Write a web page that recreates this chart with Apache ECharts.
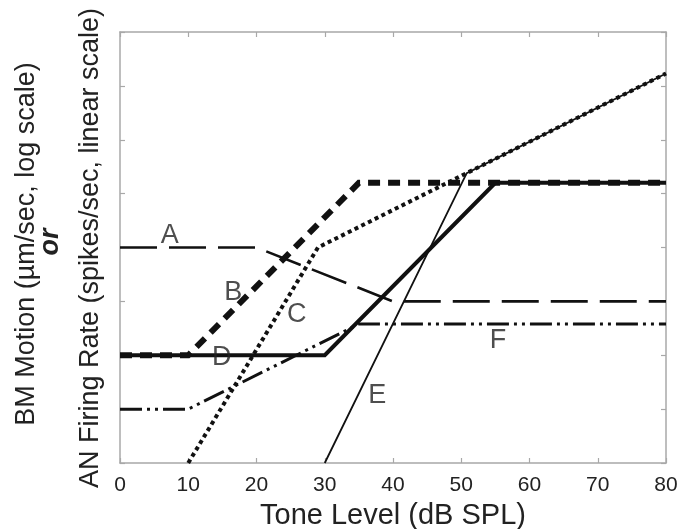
<!DOCTYPE html>
<html>
<head>
<meta charset="utf-8">
<script src="https://cdn.jsdelivr.net/npm/echarts@6/dist/echarts.min.js"></script>
<style>
html,body{margin:0;padding:0;background:#fff;}
#chart{width:685px;height:529px;}
</style>
</head>
<body>
<div id="chart"></div>
<script>
// ---- data ----
const xTickLabels = ['0','10','20','30','40','50','60','70','80'];
const curveA = [[0,4],[20,4],[40,3],[80,3]];
const curveB = [[0,2],[10,2],[35,5.2],[80,5.2]];
const curveC = [[10,0],[29,4],[80,7.23]];
const curveD = [[0,2],[30,2],[55,5.2],[80,5.2]];
const curveE = [[30,0],[50.8,5.38],[80,7.23]];
const curveF = [[0,1],[10,1],[35,2.58],[80,2.58]];
const labelNames = ['A','B','C','D','E','F'];
const labelX = [7.3, 16.6, 25.9, 14.9, 37.7, 55.4];
const labelY = [4.23, 3.17, 2.75, 1.95, 1.26, 2.28];
const xTitle = 'Tone Level (dB SPL)';
const yTitle1 = 'BM Motion (\u00b5m/sec, log scale)';
const yTitle2 = 'or';
const yTitle3 = 'AN Firing Rate (spikes/sec, linear scale)';

const FONT = '"Liberation Sans", Arial, Helvetica, sans-serif';
const frame = {onZero:false, lineStyle:{color:'#a8a8a8', width:1.5}};
const tick = {show:true, inside:true, length:5, lineStyle:{color:'#a8a8a8', width:1.2}};
const ink = '#111';

const chart = echarts.init(document.getElementById('chart'), null, {renderer:'canvas'});

function lineSeries(name, data, width, type){
  return {
    name, type:'line', data, showSymbol:false, symbol:'none',
    animation:false, xAxisIndex:0, yAxisIndex:0,
    lineStyle:{color:ink, width, type, cap:'butt', join:'miter'},
    z:3
  };
}

const option = {
  backgroundColor:'#fff',
  animation:false,
  grid:{left:120, right:19, top:32, bottom:66, containLabel:false, outerBoundsMode:'none'},
  xAxis:[
    {type:'value', min:0, max:80, interval:10, position:'bottom',
     axisLine:{show:true, ...frame}, splitLine:{show:false}, axisTick:tick,
     axisLabel:{show:true, margin:12, fontSize:21, color:'#222', fontFamily:FONT,
       formatter:(v)=>xTickLabels[Math.round(v/10)]},
     name:xTitle, nameLocation:'middle', nameGap:38,
     nameTextStyle:{fontSize:29, color:'#222', fontFamily:FONT}},
    {type:'value', min:0, max:80, interval:10, position:'top',
     axisLine:{show:true, ...frame}, splitLine:{show:false}, axisTick:tick,
     axisLabel:{show:false}}
  ],
  yAxis:[
    {type:'value', min:0, max:8, interval:1, position:'left',
     axisLine:{show:true, ...frame}, splitLine:{show:false}, axisTick:tick,
     axisLabel:{show:false}},
    {type:'value', min:0, max:8, interval:1, position:'right',
     axisLine:{show:true, ...frame}, splitLine:{show:false}, axisTick:tick,
     axisLabel:{show:false}}
  ],
  series:[
    lineSeries('A', curveA, 2.6, [37,12]),
    lineSeries('B', curveB, 6, [12,8]),
    lineSeries('C', curveC, 4, [4,3.5]),
    lineSeries('D', curveD, 4, 'solid'),
    lineSeries('E', curveE, 1.8, 'solid'),
    lineSeries('F', curveF, 3, [22,5,3,5,3,5]),
    {
      name:'labels', type:'scatter', symbolSize:0, animation:false,
      data: labelNames.map((n,i)=>({name:n, value:[labelX[i], labelY[i]]})),
      label:{show:true, position:'inside', formatter:(p)=>p.name,
        fontSize:27, color:'#222', fontFamily:FONT},
      z:5
    }
  ],
  graphic:[
    {type:'text', x:26.5, y:244, rotation:Math.PI/2,
     style:{text:yTitle1, fontSize:27, fontFamily:FONT, fill:'#222', align:'center', verticalAlign:'middle'}},
    {type:'text', x:51, y:242, rotation:Math.PI/2,
     style:{text:yTitle2, fontSize:27, fontStyle:'italic', fontWeight:'bold', fontFamily:FONT, fill:'#222', align:'center', verticalAlign:'middle'}},
    {type:'text', x:91, y:248, rotation:Math.PI/2,
     style:{text:yTitle3, fontSize:27, fontFamily:FONT, fill:'#222', align:'center', verticalAlign:'middle'}}
  ]
};
chart.setOption(option);
</script>
</body>
</html>
